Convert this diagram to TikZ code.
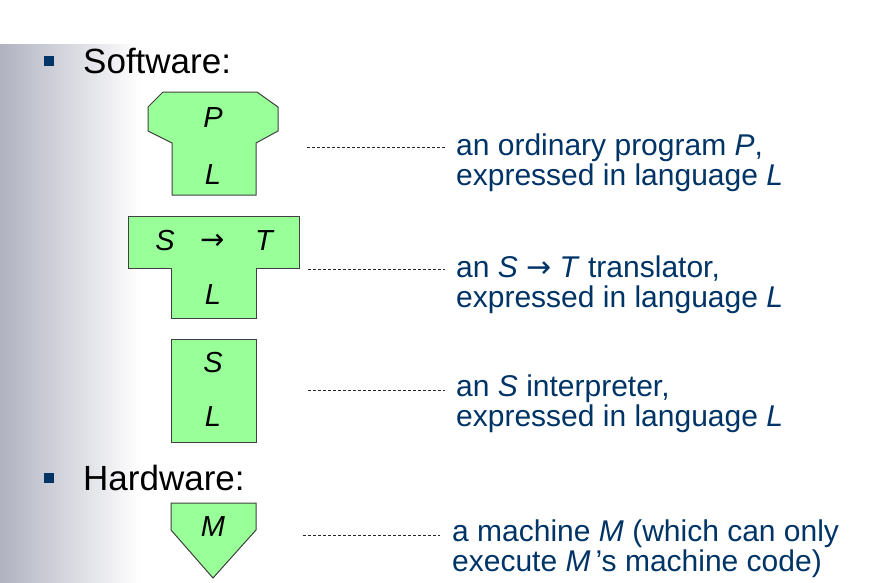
\documentclass[tikz,border=0pt]{standalone}
\usepackage{fontspec}
\setmainfont{Liberation Sans}
\newfontfamily\arrowfont{DejaVu Sans}
\usepackage{tikz}
\usetikzlibrary{positioning,calc}

\definecolor{navy}{RGB}{0,51,102}
\definecolor{boxgreen}{RGB}{153,255,153}
\definecolor{sidegray}{RGB}{176,178,192}

\newcommand{\mapsarrow}{{\arrowfont →}}

\begin{document}
\begin{tikzpicture}[
        x=1pt, y=-1pt,
        every node/.style={font=\fontsize{30}{29.5}\selectfont},
        tile/.style={draw=black!75, fill=boxgreen, line width=1pt},
        sym/.style={font=\fontsize{29}{29}\selectfont\itshape, inner sep=0pt},
        heading/.style={anchor=base west, font=\fontsize{35}{35}\selectfont, inner sep=0pt},
        bullet/.style={fill=navy, minimum size=10pt, inner sep=0pt},
        note/.style={anchor=base west, align=left, text=navy, inner sep=0pt},
        leader/.style={dash pattern=on 3pt off 2pt, line width=0.7pt, black!85}
        ]

        % Page frame and the grey band on the left
        \useasboundingbox (0,0) rectangle (879,582);
        \shade[left color=sidegray, right color=white] (0,44) rectangle (140,582);

        % Headings with their bullets
        \node[bullet] (bsoft) at (49,61) {};
        \node[heading] (soft) at (83,73) {Software:};
        \node[bullet] (bhard) at (49,478) {};
        \node[heading] (hard) at (83,490) {Hardware:};

        % Program tile
        \draw[tile] (163,92) -- (257,92) -- (278,107) -- (278,131) -- (256,143) -- (256,195)
            -- (172,195) -- (172,143) -- (148,131) -- (148,107) -- cycle;
        \node[sym] (progp) at (213,118) {P};
        \node[sym] (progl) at (213,175) {L};

        % Translator tile
        \draw[tile] (128,216) -- (299,216) -- (299,268) -- (256,268) -- (256,318)
            -- (171,318) -- (171,268) -- (128,268) -- cycle;
        \node[sym] (transs) at (165,241) {S};
        \node[sym, font=\fontsize{29}{29}\selectfont] (transa) at (213,242) {\mapsarrow};
        \node[sym] (transt) at (264,241) {T};
        \node[sym] (transl) at (213,295) {L};

        % Interpreter tile
        \draw[tile] (171,339) rectangle (256,442);
        \node[sym] (interps) at (213,363) {S};
        \node[sym] (interpl) at (213,417) {L};

        % Machine tile
        \draw[tile] (171,503) -- (256,503) -- (256,530) -- (213,578) -- (171,530) -- cycle;
        \node[sym] (machm) at (213,527) {M};

        % Explanations (anchored on the baseline of their last line)
        \node[note] (progtext) at (456,185) {an ordinary program \textit{P},\\expressed in language \textit{L}};
        \node[note] (transtext) at (456,307) {an \textit{S} \mapsarrow\ \textit{T} translator,\\expressed in language \textit{L}};
        \node[note] (interptext) at (456,426) {an \textit{S} interpreter,\\expressed in language \textit{L}};
        \node[note] (machtext) at (452,571) {a machine \textit{M} (which can only\\execute \textit{M}\,’s machine code)};

        % Dashed leaders
        \coordinate (lprog) at (307,147);
        \coordinate (ltrans) at (308,269);
        \coordinate (linterp) at (308,390);
        \coordinate (lmach) at (303,535);
        \draw[leader] (lprog) -- ([xshift=-11pt]lprog -| progtext.west);
        \draw[leader] (ltrans) -- ([xshift=-11pt]ltrans -| transtext.west);
        \draw[leader] (linterp) -- ([xshift=-11pt]linterp -| interptext.west);
        \draw[leader] (lmach) -- ([xshift=-12pt]lmach -| machtext.west);

    \end{tikzpicture}
\end{document}
